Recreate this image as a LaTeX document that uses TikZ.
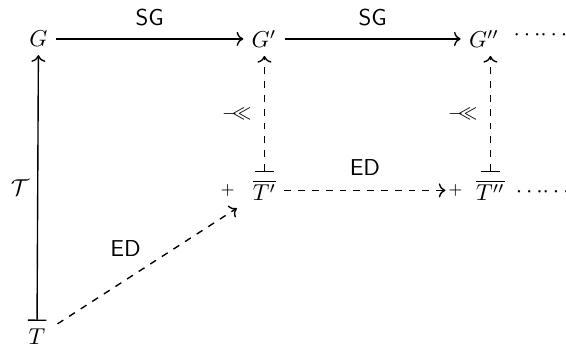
\documentclass[tikz,border=0pt]{standalone}
\usepackage{amsmath,amssymb}
\usetikzlibrary{arrows.meta,positioning}
% left double arrow-tail, built from a minus and \ll
\newcommand{\dbltail}{{\footnotesize$-\mkern-10mu\ll$}}
\newcommand{\moredots}{$\cdots\mkern-3mu\cdots$}

\begin{document}
\begin{tikzpicture}[semithick,
    mapsto/.style={{Bar[width=8pt]}-{To}},
    lift/.style={mapsto,dashed},
    lbl/.style={font=\sffamily},
    plus/.style={inner sep=1pt}]
  \useasboundingbox (0,0) rectangle (8.65,5.32);
  % top row
  \node (G0) at (0.588,4.725) {$G$};
  \node (G1) at (4.034,4.725) {$G'$};
  \node (G2) at (7.396,4.725) {$G''$};
  \node[inner sep=1pt,right=1.5pt of G2,yshift=1.5pt] (d1) {\moredots};
  % lower rows
  \node (T0) at (0.565,0.168) {$T$};
  \node (T1) at (4.042,2.41) {$\overline{T'}$};
  \node (T2) at (7.495,2.41) {$\overline{T''}$};
  \node[inner sep=1pt,right=0pt of T2,yshift=-1pt] (d2) {\moredots};
  \node[plus,left=3pt of T1] (p1) {$\scriptstyle +$};
  \node[plus,left=1pt of T2] (p2) {$\scriptstyle +$};
  % SG arrows
  \draw[-{To}] (G0) -- node[lbl,above=2pt] {SG} (G1);
  \draw[-{To}] (G1) -- node[lbl,above=2pt] {SG} (G2);
  % vertical maps
  \draw[mapsto] (T0) -- node[left] {$\mathcal{T}$} (G0);
  \draw[lift] (T1) -- node[left=2pt] {\dbltail} (T1 |- G1.south);
  \draw[lift] (T2) -- node[left=2pt] {\dbltail} (T2 |- G2.south);
  % ED arrows
  \draw[dashed,-{To},shorten <=2pt,shorten >=4pt] (T0) -- node[lbl,above left] {ED} (T1);
  \draw[dashed,-{To}] (T1) -- node[lbl,above=3pt] {ED} (p2);
\end{tikzpicture}
\end{document}
